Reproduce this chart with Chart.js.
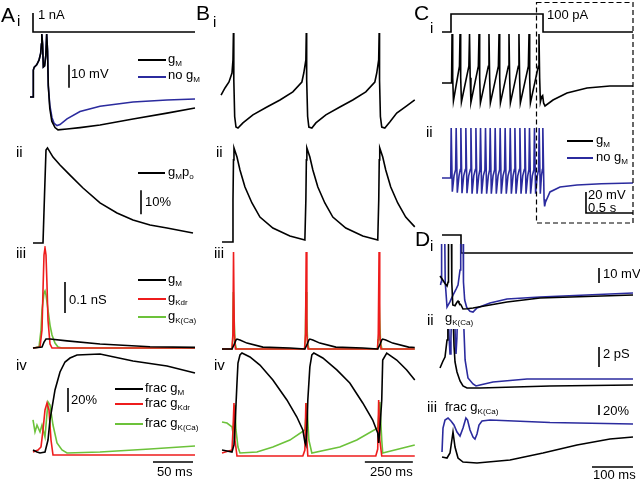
<!DOCTYPE html>
<html>
<head>
<meta charset="utf-8">
<script src="https://cdn.jsdelivr.net/npm/chart.js@4.4.0/dist/chart.umd.min.js"></script>
<style>
  body { margin: 0; background: #fff; }
  #fig { position: relative; width: 640px; height: 480px; overflow: hidden;
         font-family: Arial, "Liberation Sans", Helvetica, sans-serif; color: #000; }
  #plots canvas { position: absolute; }
  .t { position: absolute; font-size: 13px; line-height: 1; white-space: nowrap; z-index: 2; }
  .big { font-size: 21px; }
  .num { font-size: 15px; }
  sub { font-size: 62%; vertical-align: -0.35em; line-height: 0; }
  .leg { position: absolute; height: 1.5px; background: #000; z-index: 2; }
  svg { position: absolute; left: 0; top: 0; z-index: 1; }
</style>
</head>
<body>
<div id="fig">
  <div id="plots"></div>
  <svg width="640" height="480"><rect x="536.5" y="2.5" width="96.5" height="220.5" fill="none" stroke="#000" stroke-width="1.2" stroke-dasharray="5,3"/></svg>

  <!-- A -->
  <div class="t big" style="left:1px;top:4px">A</div>
  <div class="t num" style="left:17px;top:13px">i</div>
  <div class="t" style="left:38px;top:8px">1 nA</div>
  <div class="leg" style="left:138px;top:59px;width:28px"></div>
  <div class="t" style="left:168px;top:52px">g<sub>M</sub></div>
  <div class="leg" style="left:138px;top:76px;width:28px;background:#2b2b9e"></div>
  <div class="t" style="left:168px;top:68px">no g<sub>M</sub></div>
  <div class="t" style="left:71px;top:67px">10 mV</div>
  <div class="t num" style="left:16px;top:144px">ii</div>
  <div class="leg" style="left:138px;top:172px;width:27px"></div>
  <div class="t" style="left:168px;top:165px">g<sub>M</sub>p<sub>o</sub></div>
  <div class="t" style="left:145px;top:195px">10%</div>
  <div class="t num" style="left:16px;top:245px">iii</div>
  <div class="t" style="left:69px;top:293px">0.1 nS</div>
  <div class="leg" style="left:138px;top:279px;width:28px"></div>
  <div class="t" style="left:168px;top:272px">g<sub>M</sub></div>
  <div class="leg" style="left:138px;top:298px;width:28px;background:#ee1c1c"></div>
  <div class="t" style="left:168px;top:291px">g<sub>Kdr</sub></div>
  <div class="leg" style="left:138px;top:316px;width:28px;background:#6cc23a"></div>
  <div class="t" style="left:168px;top:309px">g<sub>K(Ca)</sub></div>
  <div class="t num" style="left:16px;top:357px">iv</div>
  <div class="t" style="left:71px;top:393px">20%</div>
  <div class="leg" style="left:115px;top:388px;width:28px"></div>
  <div class="t" style="left:145px;top:381px">frac g<sub>M</sub></div>
  <div class="leg" style="left:115px;top:403px;width:28px;background:#ee1c1c"></div>
  <div class="t" style="left:145px;top:396px">frac g<sub>Kdr</sub></div>
  <div class="leg" style="left:115px;top:423px;width:28px;background:#6cc23a"></div>
  <div class="t" style="left:145px;top:416px">frac g<sub>K(Ca)</sub></div>
  <div class="t" style="left:157px;top:465px">50 ms</div>

  <!-- B -->
  <div class="t big" style="left:196px;top:2px">B</div>
  <div class="t num" style="left:213px;top:14px">i</div>
  <div class="t num" style="left:216px;top:144px">ii</div>
  <div class="t num" style="left:214px;top:245px">iii</div>
  <div class="t num" style="left:214px;top:357px">iv</div>
  <div class="t" style="left:370px;top:465px">250 ms</div>

  <!-- C -->
  <div class="t big" style="left:414px;top:2px">C</div>
  <div class="t num" style="left:430px;top:20px">i</div>
  <div class="t" style="left:547px;top:8px">100 pA</div>
  <div class="t num" style="left:426px;top:124px">ii</div>
  <div class="leg" style="left:567px;top:140px;width:26px"></div>
  <div class="t" style="left:596px;top:133px">g<sub>M</sub></div>
  <div class="leg" style="left:567px;top:157px;width:26px;background:#2b2b9e"></div>
  <div class="t" style="left:596px;top:150px">no g<sub>M</sub></div>
  <div class="t" style="left:588px;top:188px">20 mV</div>
  <div class="t" style="left:588px;top:201px">0.5 s</div>

  <!-- D -->
  <div class="t big" style="left:415px;top:228px">D</div>
  <div class="t num" style="left:430px;top:238px">i</div>
  <div class="t" style="left:603px;top:267px">10 mV</div>
  <div class="t num" style="left:427px;top:312px">ii</div>
  <div class="t" style="left:445px;top:311px">g<sub>K(Ca)</sub></div>
  <div class="t" style="left:603px;top:347px">2 pS</div>
  <div class="t num" style="left:427px;top:399px">iii</div>
  <div class="t" style="left:445px;top:400px">frac g<sub>K(Ca)</sub></div>
  <div class="t" style="left:603px;top:404px">20%</div>
  <div class="t" style="left:593px;top:468px">100 ms</div>
</div>

<script>
// ---- A: single 1 nA pulse (time ms) ----
const aiCurrent = [[0, 1], [0, 0], [202.5, 0]];                       // nA
const aiVoltGM = [[-3.75, -65], [0, -65], [0.4, -53.3], [1.6, -52], [4.6, -51], [7.5, -49], [9.6, -46],
  [10.5, -42], [11, -37.6], [12, -42], [12.9, -52], [14.5, -51.5], [16, -47], [17.1, -37.6], [18.2, -45],
  [19.1, -60], [21, -70], [23.5, -75.5], [27.5, -78.3], [31.25, -79.3], [42.5, -78.9], [58.75, -78.3],
  [83.75, -77.2], [125, -74.6], [167.5, -72], [202.5, -69.8]];         // mV
const aiVoltNoGM = [[-3.75, -65], [0, -65], [0.4, -53.3], [1.6, -52], [4.6, -51], [7.5, -49], [9.6, -46],
  [10.5, -42], [11, -37.6], [12, -42], [12.9, -52], [14.5, -51.5], [16, -47], [17.1, -37.6], [18.2, -45],
  [19.1, -60], [21, -68.5], [23.75, -74], [26.5, -76.5], [30, -77.4], [33.75, -77], [42.5, -74.5],
  [58.75, -71.3], [83.75, -69], [125, -67.2], [167.5, -66.3], [202.5, -65.9]];
const aiBar = [[45, -51], [45, -61]];
const aiiPo = [[0, 0], [12.5, 0], [14.4, 20], [16.25, 38.75], [18.1, 39.6], [25, 35.8], [33.75, 32.5],
  [46.25, 28.3], [62.5, 22.9], [83.75, 16.7], [105, 12.5], [125, 9.6], [146.25, 7.5], [167.5, 6.25], [200, 4.2]]; // %
const aiiBar = [[135, 22], [135, 12]];
const aiiiGM = [[0, 0], [11.25, 0.003], [13.75, 0.019], [16.25, 0.029], [21.25, 0.029], [42.5, 0.023],
  [83.75, 0.013], [146.25, 0.004], [202.5, 0.002]];                    // nS
const aiiiKdr = [[0, 0], [8.75, 0.003], [11.25, 0.058], [12.5, 0.187], [13.75, 0.3], [15, 0.323], [16.25, 0.3],
  [17.5, 0.203], [18.75, 0.09], [21.25, 0.013], [23.75, 0], [202.5, 0]];
const aiiiKCa = [[0, 0], [7.5, 0.003], [10, 0.058], [11.25, 0.123], [13.75, 0.177], [15, 0.184], [16.25, 0.171],
  [18.75, 0.123], [21.25, 0.074], [23.75, 0.042], [27.5, 0.016], [31.25, 0.003], [36.25, 0], [202.5, 0]];
const aiiiBar = [[40, 0.213], [40, 0.113]];
const aivGM = [[0, 4.2], [5, 2.5], [8.75, 1.7], [15, 2.5], [18.75, 12.5], [21.25, 29.2], [27.5, 54.2],
  [33.75, 69.2], [40, 77.5], [46.25, 80.8], [55, 83.3], [83.75, 84.2], [125, 78.3], [167.5, 74.2], [202.5, 68.3]]; // %
const aivKdr = [[0, 2.5], [6.25, 4.2], [10, 6.7], [12.5, 20.8], [15, 37.5], [17.5, 43.3], [20, 37.5],
  [22.5, 12.5], [25, 0], [202.5, 0]];
const aivKCa = [[0, 29.2], [2.5, 19.2], [5, 25], [8.75, 19.2], [11.25, 25], [15, 15], [18.75, 44.2],
  [21.25, 41.7], [25, 25], [30, 10], [36.25, 4.2], [42.5, 1.7], [83.75, 2.5], [146.25, 5], [202.5, 7.5]];
const aivBar = [[43.75, 55.8], [43.75, 35.8]];
const aTimeBar = [[150, -5.8], [200, -5.8]];                          // 50 ms

// ---- B: repetitive firing (time ms) ----
const biVolt = [[-5, -60.7], [15.6, -57.6], [36.4, -55], [52, -51.1], [57.2, -45.4], [59.5, -33.7], [61.5, -54],
  [66, -70], [72.8, -74.6], [83.2, -75], [109, -72.8], [161, -69.3], [234, -65.9], [302, -62.8], [369, -59.3],
  [416, -55], [426, -51.1], [436.8, -45.4], [439, -33.7], [441, -54], [446, -70], [452.4, -74.6], [468, -75],
  [489, -72.8], [541, -69.3], [614, -65.9], [681, -62.8], [749, -59.3], [796, -55], [806, -51.1], [816, -45.4],
  [818.5, -33.7], [820.5, -54], [825, -70], [832, -74.6], [848, -75], [874, -72.4], [910, -68.5], [962, -65.4],
  [1004, -62.8]];
const biiPo = [[0, 0], [54, 0], [57.2, 17.5], [59.8, 34.2], [62.4, 39.2], [78, 35.4], [93.6, 30], [119.6, 22.9],
  [156, 16.25], [197.6, 10.4], [265, 5.8], [353.6, 2.5], [431.6, 0.8], [436.8, 17.5], [439.4, 34.2], [442, 39.2],
  [457.6, 35.4], [473.2, 30], [499.2, 22.9], [535.6, 16.25], [577.2, 10.4], [644.8, 5.8], [733.2, 2.5],
  [811.2, 0.8], [816.4, 17.5], [819, 34.2], [821.6, 39.2], [837.2, 35.4], [852.8, 30], [878.8, 22.9],
  [915.2, 16.25], [956.8, 10.4], [1004, 6.3]];
const biiiGM = [[0, 0], [52, 0], [62.4, 0.013], [72.8, 0.029], [78, 0.032], [93.6, 0.029], [130, 0.019],
  [213, 0.006], [353.6, 0.003], [431.6, 0], [442, 0.013], [452.4, 0.029], [457.6, 0.032], [473, 0.029],
  [509.6, 0.019], [592.8, 0.006], [733, 0.003], [811, 0], [822, 0.013], [832, 0.029], [837, 0.032],
  [853, 0.029], [889, 0.019], [972, 0.006], [1004, 0.005]];
const biiiKdr = [[0, 0], [52, 0], [57, 0.05], [60, 0.313], [64, 0.05], [70, 0], [430, 0], [435, 0.05],
  [438.5, 0.313], [442, 0.05], [448, 0], [810, 0], [814, 0.05], [818, 0.313], [821.5, 0.05], [828, 0], [1004, 0]];
const biiiKCa = [[0, 0], [52, 0], [56, 0.03], [59, 0.184], [63, 0.1], [68, 0.02], [75, 0], [430, 0], [434, 0.03],
  [437.5, 0.184], [441.5, 0.1], [446, 0.02], [453, 0], [810, 0], [813, 0.03], [817, 0.184], [821, 0.1],
  [826, 0.02], [833, 0], [1004, 0]];
const bivGM = [[0, 5], [26, 4.2], [52, 3.3], [62.4, 9.2], [67.6, 24.2], [78, 60.8], [83.2, 77.5], [93.6, 84.2],
  [104, 85.8], [145.6, 82.5], [197.6, 75.8], [265, 63.3], [338, 46.7], [390, 32.5], [421, 21.7], [431.6, 11.7],
  [436.8, 9.2], [442, 21.7], [447, 46.7], [457.6, 74.2], [468, 84.2], [478.4, 85.8], [525, 81.7], [598, 71.7],
  [665.6, 60.8], [733, 44.2], [785, 30], [811, 19.2], [816, 10.8], [822, 21.7], [832, 46.7], [837, 80],
  [858, 85.8], [910, 80], [962, 71.7], [1004, 63.3]];
const bivKdr = [[0, 2.5], [52, 5], [57.2, 21.7], [62.4, 44.2], [67.6, 13.3], [78, 0], [421, 0], [431.6, 5],
  [436.8, 44.2], [442, 13.3], [447, 0], [801, 0], [811, 5.8], [816, 46.7], [822, 13.3], [832, 0], [1004, 0]];
const bivKCa = [[0, 28.3], [26, 27.5], [52, 24.2], [57.2, 19.2], [67.6, 42.5], [72.8, 21.7], [83.2, 7.5],
  [93.6, 2.5], [182, 3.3], [265, 7.5], [353.6, 13.3], [431.6, 21.7], [442, 44.2], [452.4, 13.3], [468, 2.5],
  [613.6, 7.5], [702, 13.3], [811, 23.3], [822, 45], [832, 13.3], [837, 2.5], [1004, 9.2]];
const bTimeBar = [[744, -5], [994, -5]];                              // 250 ms

// ---- C: 1 s step of 100 pA (time s) ----
const ciCurrent = [[-0.096, 0], [0, 0], [0, 100], [0.979, 100], [0.979, 0], [1.936, 0]]; // pA
const ciVoltGM = [[-0.096, -65], [0.006, -65], [0.011, -18.3], [0.018, -60], [0.026, -82], [0.09, -49],
  [0.096, -18.3], [0.103, -60], [0.111, -83], [0.19, -49], [0.197, -18.3], [0.204, -60], [0.212, -83.5],
  [0.291, -49], [0.298, -18.3], [0.305, -60], [0.313, -84], [0.397, -49], [0.404, -18.3], [0.411, -60],
  [0.419, -84], [0.504, -49], [0.511, -18.3], [0.518, -60], [0.526, -84], [0.61, -49], [0.617, -18.3],
  [0.624, -60], [0.632, -84], [0.716, -49], [0.723, -18.3], [0.73, -60], [0.738, -84], [0.823, -49],
  [0.83, -18.3], [0.837, -60], [0.845, -84], [0.929, -49], [0.936, -18.3], [0.943, -60], [0.951, -83],
  [0.965, -78], [0.975, -77], [0.985, -84], [1.0, -86.9], [1.085, -81.2], [1.234, -74.5], [1.447, -69.8],
  [1.69, -67.9], [1.936, -67.9]];
const ciiVoltNoGM = [[-0.096, -65], [-0.003, -65], [0.002, -17.4], [0.014, -78], [0.032, -63], [0.049, -57],
  [0.055, -17.4], [0.067, -79], [0.085, -63], [0.099, -57], [0.105, -17.4], [0.117, -79.5], [0.135, -63],
  [0.152, -57], [0.158, -17.4], [0.17, -79.5], [0.188, -63], [0.206, -57], [0.212, -17.4], [0.224, -80],
  [0.242, -63], [0.259, -57], [0.265, -17.4], [0.277, -80], [0.295, -63], [0.308, -57], [0.314, -17.4],
  [0.326, -80], [0.344, -63], [0.361, -57], [0.367, -17.4], [0.379, -80], [0.397, -63], [0.411, -57],
  [0.417, -17.4], [0.429, -80], [0.447, -63], [0.464, -57], [0.47, -17.4], [0.482, -80], [0.5, -63],
  [0.517, -57], [0.523, -17.4], [0.535, -80], [0.553, -63], [0.57, -57], [0.576, -17.4], [0.588, -80],
  [0.606, -63], [0.624, -57], [0.63, -17.4], [0.642, -80], [0.66, -63], [0.674, -57], [0.68, -17.4],
  [0.692, -80], [0.71, -63], [0.727, -57], [0.733, -17.4], [0.745, -80], [0.763, -63], [0.78, -57],
  [0.786, -17.4], [0.798, -80], [0.816, -63], [0.829, -57], [0.835, -17.4], [0.847, -80], [0.865, -63],
  [0.882, -57], [0.888, -17.4], [0.9, -80], [0.918, -63], [0.932, -57], [0.938, -17.4], [0.95, -80],
  [0.962, -63], [0.972, -57], [0.977, -17.4], [0.99, -85], [0.996, -92], [1.005, -88], [1.053, -78.3],
  [1.16, -73.6], [1.34, -71.7], [1.6, -70.5], [1.936, -69.8]];
const cBar = [[1.436, -78.3], [1.436, -98.3], [1.936, -98.3]];        // 20 mV, 0.5 s

// ---- D: end of the step (time ms from step off) ----
const diCurrent = [[-46.3, 100], [0, 100], [0, 0], [419.5, 0]];
const diVoltGM = [[-51.2, -56], [-46, -58], [-39, -61], [-34, -62.7], [-31.5, -60], [-30.5, -20], [-23.5, -20],
  [-22.5, -60], [-20, -75.3], [-14.6, -75.8], [-10, -73.5], [-7.3, -72.7], [-4.9, -74], [0, -75.3], [4.9, -78],
  [14.6, -77.8], [29.3, -77.3], [70.7, -75.3], [112.2, -73.3], [192.7, -70.7], [419.5, -68.7]];
const diVoltNoGM = [[-50, -62], [-48.5, -60], [-47.3, -20], [-40, -20], [-38.5, -60], [-34.1, -76.7],
  [-27, -73.3], [-19.5, -68.7], [-12, -64.7], [-7.3, -62], [-2.4, -52], [-0.7, -20], [4.9, -20], [6, -60],
  [9, -72], [14, -77], [22, -79.5], [29.3, -80], [39, -77.3], [70.7, -74], [112.2, -71.3], [192.7, -70],
  [419.5, -67.3]];
const diBar = [[336.6, -50.7], [336.6, -60.7]];
const diiGM = [[-51.2, 2], [-43.9, 2.7], [-39, 3.1], [-34.1, 4.8], [-32, 8], [-20, 8], [-17, 4.2], [-14.6, 2.6],
  [-9.8, 1.6], [-2.4, 0.7], [4.9, 0.2], [14.6, 0], [46.3, 0], [217, 0.2], [419.5, 0.3]];  // pS
const diiNoGM = [[-51.2, 9], [-32, 9], [-29, 5], [-26.8, 3.4], [-24.5, 5], [-22, 9], [-16, 9], [-14, 5],
  [-12.2, 3.4], [-10, 5], [-7.3, 9], [3, 9], [7, 6], [10, 2.8], [17, 1], [29.3, 0.4], [36.6, 0.2], [46.3, 0.3],
  [78, 0.6], [161, 0.9], [419.5, 0.9]];
const diiBar = [[336.6, 4.1], [336.6, 2.1]];
const diiiGM = [[-46.3, 17], [-34.1, 15], [-26.8, 25], [-19.5, 67], [-14.6, 37], [-7.3, 15], [4.9, 7], [39, 5],
  [119.5, 11], [200, 25], [282.9, 41], [363.4, 53], [419.5, 57]];       // %
const diiiNoGM = [[-46.3, 27], [-43.9, 75], [-39, 91], [-31.7, 95], [-24.4, 89], [-17.1, 81], [-9.8, 67],
  [-2.4, 59], [4.9, 75], [12, 95], [16, 91], [22, 71], [29.3, 57], [34.1, 53], [39, 63], [43.9, 81], [51.2, 89],
  [70.7, 91], [217, 86], [419.5, 83]];
const diiiBar = [[336.6, 121], [336.6, 101]];
const dTimeBar = [[319.5, -3], [419.5, -3]];                          // 100 ms

const BLACK = '#000000', BLUE = '#2b2b9e', RED = '#ee1c1c', GREEN = '#6cc23a';

// box: [left, top, width, height] on the page; cal: [pixel, value, pixels per unit]
const panel = (box, xCal, yCal, series) => {
  const [l, t, w, h] = box;
  const canvas = document.createElement('canvas');
  canvas.width = w; canvas.height = h;
  canvas.style.left = l + 'px'; canvas.style.top = t + 'px';
  canvas.style.width = w + 'px'; canvas.style.height = h + 'px';
  document.getElementById('plots').appendChild(canvas);
  new Chart(canvas, {
    type: 'scatter',
    data: {
      datasets: series.map(s => ({
        data: s.data.map(p => ({ x: p[0], y: p[1] })),
        borderColor: s.color,
        borderWidth: s.width || 1.6,
        showLine: true,
        pointRadius: 0,
        tension: 0,
        fill: false,
      })),
    },
    options: {
      responsive: false,
      animation: false,
      events: [],
      layout: { padding: 0 },
      plugins: { legend: { display: false }, tooltip: { enabled: false } },
      scales: {
        x: { type: 'linear', display: false,
             min: xCal[1] + (l - xCal[0]) / xCal[2], max: xCal[1] + (l + w - xCal[0]) / xCal[2] },
        y: { type: 'linear', display: false,
             min: yCal[1] - (t + h - yCal[0]) / yCal[2], max: yCal[1] + (yCal[0] - t) / yCal[2] },
      },
    },
  });
};

const ax = [33, 0, 0.8], bx = [222, 0, 0.192], cx = [451, 0, 94], dx = [461, 0, 0.41];

panel([25, 5, 175, 35], ax, [32, 0, 19], [{ data: aiCurrent, color: BLACK }]);
panel([25, 31, 175, 109], ax, [97, -65, 2.3], [
  { data: aiVoltGM, color: BLACK }, { data: aiVoltNoGM, color: BLUE }, { data: aiBar, color: BLACK }]);
panel([25, 140, 175, 106], ax, [243, 0, 2.4], [{ data: aiiPo, color: BLACK }, { data: aiiBar, color: BLACK }]);
panel([25, 246, 175, 106], ax, [348, 0, 310], [
  { data: aiiiGM, color: BLACK }, { data: aiiiKdr, color: RED }, { data: aiiiKCa, color: GREEN },
  { data: aiiiBar, color: BLACK }]);
panel([25, 352, 175, 114], ax, [455, 0, 1.2], [
  { data: aivGM, color: BLACK }, { data: aivKdr, color: RED }, { data: aivKCa, color: GREEN },
  { data: aivBar, color: BLACK }, { data: aTimeBar, color: BLACK }]);

panel([214, 30, 206, 105], bx, [128, -75, 2.3], [{ data: biVolt, color: BLACK }]);
panel([214, 140, 206, 106], bx, [242, 0, 2.4], [{ data: biiPo, color: BLACK }]);
panel([214, 246, 206, 106], bx, [349, 0, 310], [
  { data: biiiGM, color: BLACK }, { data: biiiKdr, color: RED }, { data: biiiKCa, color: GREEN }]);
panel([214, 350, 206, 116], bx, [456, 0, 1.2], [
  { data: bivGM, color: BLACK }, { data: bivKdr, color: RED }, { data: bivKCa, color: GREEN },
  { data: bTimeBar, color: BLACK }]);

panel([436, 5, 204, 35], cx, [32, 0, 0.18], [{ data: ciCurrent, color: BLACK }]);
panel([436, 30, 204, 88], cx, [83, -65, 1.05], [{ data: ciVoltGM, color: BLACK }]);
panel([436, 118, 204, 102], cx, [178, -65, 1.05], [{ data: ciiVoltNoGM, color: BLUE }, { data: cBar, color: BLACK }]);

panel([436, 228, 204, 34], dx, [253, 0, 0.18], [{ data: diCurrent, color: BLACK }]);
panel([436, 244, 204, 74], dx, [294, -68, 1.5], [
  { data: diVoltGM, color: BLACK }, { data: diVoltNoGM, color: BLUE }, { data: diBar, color: BLACK }]);
panel([436, 329, 204, 66], dx, [388, 0, 10], [
  { data: diiGM, color: BLACK }, { data: diiNoGM, color: BLUE }, { data: diiBar, color: BLACK }]);
panel([436, 398, 204, 74], dx, [463, 5, 0.5], [
  { data: diiiGM, color: BLACK }, { data: diiiNoGM, color: BLUE }, { data: diiiBar, color: BLACK },
  { data: dTimeBar, color: BLACK }]);
</script>
</body>
</html>
